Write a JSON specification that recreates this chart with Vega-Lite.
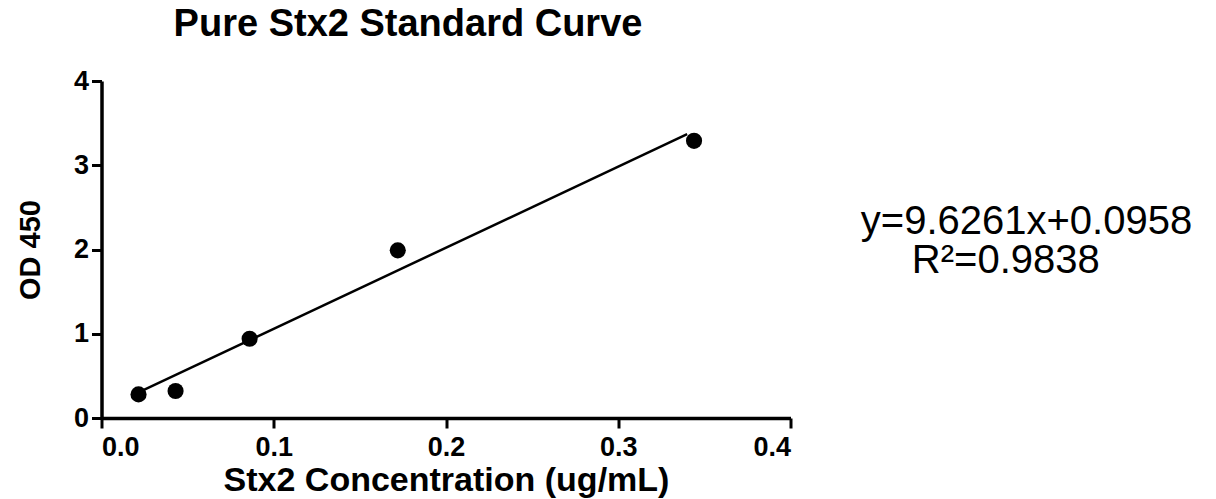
{
  "$schema": "https://vega.github.io/schema/vega-lite/v6.json",
  "autosize": {"type": "none"},
  "padding": {"left": 101.5, "top": 81, "right": 425.5, "bottom": 81},
  "width": 689,
  "height": 337,
  "background": "white",
  "title": {
    "text": "Pure Stx2 Standard Curve",
    "font": "Liberation Sans",
    "fontSize": 38,
    "fontWeight": "bold",
    "color": "black",
    "anchor": "middle",
    "dx": -38,
    "baseline": "alphabetic",
    "offset": -7
  },
  "config": {
    "view": {"stroke": null},
    "axis": {
      "labelFont": "Liberation Sans",
      "labelFontWeight": "bold",
      "labelFontSize": 27,
      "labelColor": "black",
      "titleFont": "Liberation Sans",
      "titleFontWeight": "bold",
      "titleColor": "black",
      "domainColor": "black",
      "domainWidth": 3.5,
      "tickColor": "black",
      "tickWidth": 3,
      "tickSize": 10,
      "grid": false
    }
  },
  "datasets": {
    "points": [
      {"conc": 0.0215, "od": 0.28},
      {"conc": 0.043, "od": 0.32},
      {"conc": 0.086, "od": 0.94},
      {"conc": 0.172, "od": 1.99},
      {"conc": 0.344, "od": 3.29}
    ],
    "fit": [
      {"conc": 0.0215, "od": 0.303},
      {"conc": 0.340, "od": 3.369}
    ],
    "notes": [
      {"conc": 0.537, "od": 2.33, "label": "y=9.6261x+0.0958"},
      {"conc": 0.525, "od": 1.86, "label": "R²=0.9838"}
    ]
  },
  "layer": [
    {
      "data": {"name": "fit"},
      "mark": {"type": "line", "color": "black", "strokeWidth": 2.5},
      "encoding": {
        "x": {
          "field": "conc", "type": "quantitative",
          "scale": {"domain": [0, 0.4], "nice": false, "zero": false},
          "axis": {
            "values": [0, 0.1, 0.2, 0.3, 0.4],
            "format": ".1f",
            "title": "Stx2 Concentration (ug/mL)",
            "titleFontSize": 34,
            "titlePadding": 3,
            "labelPadding": 6
          }
        },
        "y": {
          "field": "od", "type": "quantitative",
          "scale": {"domain": [0, 4], "nice": false},
          "axis": {
            "values": [0, 1, 2, 3, 4],
            "format": "d",
            "title": "OD 450",
            "titleFontSize": 29,
            "titlePadding": 28,
            "labelPadding": 3
          }
        }
      }
    },
    {
      "data": {"name": "points"},
      "mark": {"type": "circle", "color": "black", "opacity": 1, "size": 260},
      "encoding": {
        "x": {"field": "conc", "type": "quantitative"},
        "y": {"field": "od", "type": "quantitative"}
      }
    },
    {
      "data": {"name": "notes"},
      "mark": {"type": "text", "font": "Liberation Sans", "fontSize": 40, "color": "black", "align": "center", "baseline": "middle", "clip": false},
      "encoding": {
        "x": {"field": "conc", "type": "quantitative"},
        "y": {"field": "od", "type": "quantitative"},
        "text": {"field": "label"}
      }
    }
  ]
}
